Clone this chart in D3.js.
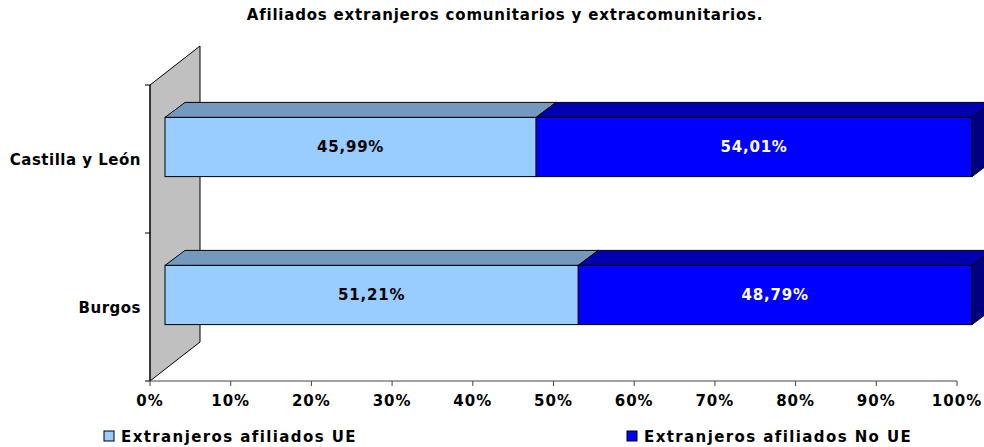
<!DOCTYPE html>
<html><head><meta charset="utf-8">
<script src="https://cdn.jsdelivr.net/npm/d3@7"></script>
<style>
html,body{margin:0;padding:0;background:#fff;}
text{font-family:"DejaVu Sans",Verdana,sans-serif;font-weight:bold;}
</style></head>
<body><svg id="c" width="984" height="447"></svg>
<script>
const title = "Afiliados extranjeros comunitarios y extracomunitarios.";
const categories = ["Castilla y León", "Burgos"];
const seriesNames = ["Extranjeros afiliados UE", "Extranjeros afiliados No UE"];
const seriesUE = [45.99, 51.21];
const seriesNoUE = [54.01, 48.79];
const tickValues = [0,10,20,30,40,50,60,70,80,90,100];

const frontColors = ["#99CCFF", "#0000FF"];
const topColors = ["#7399BF", "#0000B0"];
const sideColors = ["#5C7A99", "#000080"];
const labelColors = ["#000", "#fff"];

const svg = d3.select("#c");
const x = d3.scaleLinear().domain([0,100]).range([150,957]);
const y = d3.scaleBand().domain(categories).range([85,381]).paddingInner(0.6).paddingOuter(0.3);
const wallDx = 50, wallDy = -39;
const barOff = {dx:15, dy:-12};
const depth = {dx:20, dy:-15};

svg.append("text").attr("x",505).attr("y",20).attr("text-anchor","middle")
  .attr("font-size",15).attr("letter-spacing",0.8).text(title);

const y0 = 85, y1 = 381;
svg.append("path")
  .attr("d",`M150,${y0}L${150+wallDx},${y0+wallDy}L${150+wallDx},${y1+wallDy}L150,${y1}Z`)
  .attr("fill","#C0C0C0").attr("stroke","#000").attr("stroke-width",1);

svg.append("line").attr("x1",150).attr("x2",150).attr("y1",y0).attr("y2",y1).attr("stroke","#000");
svg.append("line").attr("x1",150).attr("x2",x(100)).attr("y1",y1).attr("y2",y1).attr("stroke","#444");
[85,233,381].forEach(v=>svg.append("line").attr("x1",145).attr("x2",150).attr("y1",v).attr("y2",v).attr("stroke","#000"));
tickValues.forEach(t=>{
  svg.append("line").attr("x1",x(t)).attr("x2",x(t)).attr("y1",y1).attr("y2",y1+5).attr("stroke","#444");
  svg.append("text").attr("x",x(t)).attr("y",406).attr("text-anchor","middle").attr("font-size",15)
    .attr("letter-spacing",1).text(t+"%");
});
categories.forEach(c=>{
  svg.append("text").attr("x",141).attr("y",y(c)+y.bandwidth()/2+6).attr("text-anchor","end")
    .attr("font-size",15).attr("letter-spacing",0.5).text(c);
});

const series = [seriesUE, seriesNoUE];
categories.forEach((c,i)=>{
  let start = 0;
  const top = y(c)+barOff.dy, h = y.bandwidth();
  series.forEach((s,si)=>{
    const v = s[i];
    const xa = x(start)+barOff.dx, xb = x(start+v)+barOff.dx;
    svg.append("path")
      .attr("d",`M${xa},${top}L${xa+depth.dx},${top+depth.dy}L${xb+depth.dx},${top+depth.dy}L${xb},${top}Z`)
      .attr("fill",topColors[si]).attr("stroke","#000").attr("stroke-width",1);
    svg.append("rect").attr("x",xa).attr("y",top).attr("width",xb-xa).attr("height",h)
      .attr("fill",frontColors[si]).attr("stroke","#000").attr("stroke-width",1);
    if (si === series.length-1) {
      svg.append("path")
        .attr("d",`M${xb},${top}L${xb+depth.dx},${top+depth.dy}L${xb+depth.dx},${top+h+depth.dy}L${xb},${top+h}Z`)
        .attr("fill",sideColors[si]).attr("stroke","#000").attr("stroke-width",1);
    }
    svg.append("text").attr("x",(xa+xb)/2).attr("y",top+h/2+5).attr("text-anchor","middle")
      .attr("font-size",15).attr("letter-spacing",0.8).attr("fill",labelColors[si])
      .text(v.toFixed(2).replace(".",",")+"%");
    start += v;
  });
});

const legX = [104, 627];
seriesNames.forEach((n,i)=>{
  svg.append("rect").attr("x",legX[i]).attr("y",431).attr("width",10).attr("height",10)
    .attr("fill",frontColors[i]).attr("stroke","#000");
  svg.append("text").attr("x",legX[i]+17).attr("y",442).attr("font-size",15)
    .attr("letter-spacing",1.4).text(n);
});
</script></body></html>
